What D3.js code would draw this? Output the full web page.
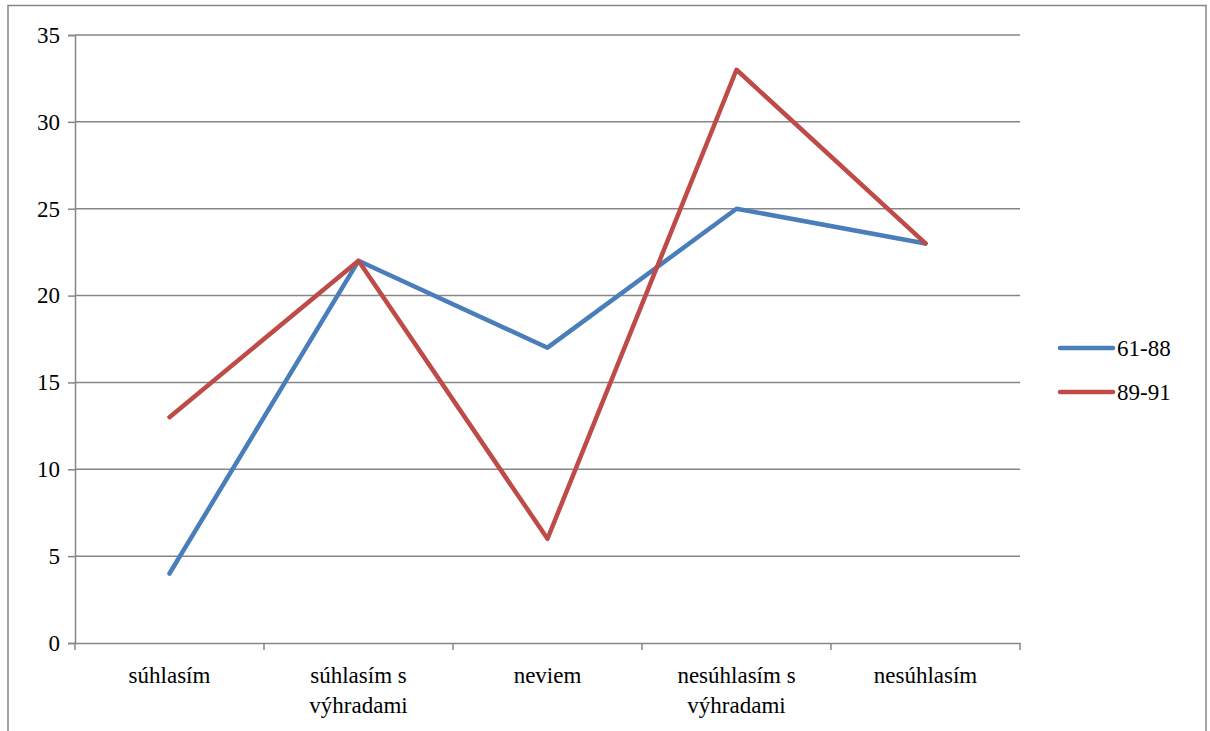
<!DOCTYPE html>
<html><head><meta charset="utf-8">
<script src="https://cdn.jsdelivr.net/npm/d3@7"></script>
<style>body{margin:0;background:#fff}svg{display:block}</style>
</head><body>
<script>
const categories = ["súhlasím", "súhlasím s výhradami", "neviem", "nesúhlasím s výhradami", "nesúhlasím"];
const series6188 = [4, 22, 17, 25, 23];
const series8991 = [13, 22, 6, 33, 23];
const seriesNames = ["61-88", "89-91"];
const yTicks = [0, 5, 10, 15, 20, 25, 30, 35];
const colors = ["#4a7ebb", "#be4b48"];

(function(){
const ctx = document.createElement("canvas").getContext("2d");
function w(f){ ctx.font = "40px " + f; return ctx.measureText("súhlasím 0123 mwWi").width; }
const cands = ["Liberation Serif", "Tinos", "Times New Roman", "Noto Serif", "DejaVu Serif", "FreeSerif"];
let chosen = "serif";
for (const c of cands) {
  if (w(`"${c}", monospace`) !== w("monospace") || w(`"${c}", sans-serif`) !== w("sans-serif")) { chosen = `"${c}"`; break; }
}
const font = chosen + ", serif";
const fs = 23;

const W = 1210, H = 731;
const svg = d3.select("body").append("svg").attr("width", W).attr("height", H)
  .style("font-family", font).style("font-size", fs + "px");

svg.append("rect").attr("x", 8).attr("y", 5.5).attr("width", 1198).attr("height", 740)
  .attr("fill", "none").attr("stroke", "#868686").attr("stroke-width", 1.5);

const pLeft = 75, pRight = 1020, pTop = 35, pBottom = 643;
const x = d3.scaleBand().domain(categories).range([pLeft, pRight]);
const y = d3.scaleLinear().domain([0, 35]).range([pBottom, pTop]);

svg.append("g").selectAll("line").data(yTicks.filter(d => d > 0)).join("line")
  .attr("x1", pLeft).attr("x2", pRight).attr("y1", d => y(d)).attr("y2", d => y(d))
  .attr("stroke", "#868686").attr("stroke-width", 1.5);

const yAxis = svg.append("g").attr("transform", `translate(${pLeft},0)`)
  .call(d3.axisLeft(y).tickValues(yTicks).tickSize(7).tickPadding(8));
yAxis.attr("font-family", null).attr("font-size", null);
yAxis.selectAll("text").style("font-family", font).style("font-size", fs + "px").attr("fill", "#000");
yAxis.select(".domain").attr("stroke", "#868686").attr("stroke-width", 1.5);
yAxis.selectAll(".tick line").attr("stroke", "#868686").attr("stroke-width", 1.5);

const xAxis = svg.append("g").attr("transform", `translate(0,${pBottom})`)
  .call(d3.axisBottom(x).tickSize(0).tickFormat(""));
xAxis.select(".domain").attr("stroke", "#868686").attr("stroke-width", 1.5);
xAxis.selectAll(".tick").remove();
const bounds = categories.map(c => x(c)).concat([x(categories[categories.length-1]) + x.bandwidth()]);
xAxis.selectAll("line.bt").data(bounds).join("line").attr("class","bt")
  .attr("x1", d => d).attr("x2", d => d).attr("y1", 0).attr("y2", 7)
  .attr("stroke", "#868686").attr("stroke-width", 1.5);

const wrapMap = {"súhlasím s výhradami": ["súhlasím s", "výhradami"], "nesúhlasím s výhradami": ["nesúhlasím s", "výhradami"]};
categories.forEach(c => {
  const lines = wrapMap[c] || [c];
  const t = svg.append("text").attr("text-anchor", "middle")
    .style("font-family", font).style("font-size", fs + "px").attr("fill", "#000");
  lines.forEach((l, i) => {
    t.append("tspan").attr("x", x(c) + x.bandwidth()/2).attr("y", 683 + i*30).text(l);
  });
});

const lineGen = d3.line().x((d, i) => x(categories[i]) + x.bandwidth()/2).y(d => y(d));
[series6188, series8991].forEach((s, k) => {
  svg.append("path").datum(s).attr("d", lineGen).attr("fill", "none")
    .attr("stroke", colors[k]).attr("stroke-width", 4.5)
    .attr("stroke-linejoin", "round").attr("stroke-linecap", "round");
});

seriesNames.forEach((n, k) => {
  const ly = 348 + k*44;
  svg.append("line").attr("x1", 1060).attr("x2", 1113).attr("y1", ly).attr("y2", ly)
    .attr("stroke", colors[k]).attr("stroke-width", 4.5).attr("stroke-linecap", "round");
  svg.append("text").attr("x", 1117).attr("y", ly + 8)
    .style("font-family", font).style("font-size", fs + "px").attr("fill", "#000").text(n);
});
})();
</script>
</body></html>
